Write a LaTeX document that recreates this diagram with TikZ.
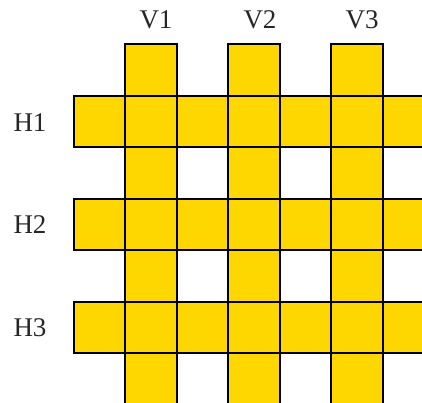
\documentclass[tikz,border=0pt]{standalone}
\usepackage{fontspec}
\setmainfont{Liberation Serif}
\definecolor{cellgold}{HTML}{FFD700}
\begin{document}
\begin{tikzpicture}[x=1pt,y=-1pt,
  cellfill/.style={fill=cellgold},
  celledge/.style={draw=black,line width=2pt,line cap=rect},
  lab/.style={font=\fontsize{27}{30}\selectfont,inner sep=0pt,text=black!85}]
\useasboundingbox (0,0) rectangle (422,402);
\clip (0,0) rectangle (422,402);
% fills: horizontal strips H1, H2, H3 and vertical strips V1, V2, V3
\foreach \y in {96,199,302}{
  \fill[cellfill] (74,\y) rectangle ++(360,51);
}
\foreach \x in {125,228,331}{
  \fill[cellfill] (\x,44) rectangle ++(52,360);
}
% cell borders of horizontal strips
\foreach \y/\yb in {96/147,199/250,302/353}{
  \draw[celledge] (74,\y) -- (434,\y);
  \draw[celledge] (74,\yb) -- (434,\yb);
  \foreach \x in {74,125,177,228,280,331,383}{
    \draw[celledge] (\x,\y) -- (\x,\yb);
  }
}
% cell borders of vertical strips
\foreach \x/\xb in {125/177,228/280,331/383}{
  \draw[celledge] (\x,44) -- (\x,404);
  \draw[celledge] (\xb,44) -- (\xb,404);
  \foreach \y in {44,96,147,199,250,302,353}{
    \draw[celledge] (\x,\y) -- (\xb,\y);
  }
}
\node[lab] (v1) at (156,20) {V1};
\node[lab] (v2) at (260,20) {V2};
\node[lab] (v3) at (362,20) {V3};
\node[lab] (h1) at (30,123) {H1};
\node[lab] (h2) at (30,225) {H2};
\node[lab] (h3) at (30,328) {H3};
\end{tikzpicture}
\end{document}
